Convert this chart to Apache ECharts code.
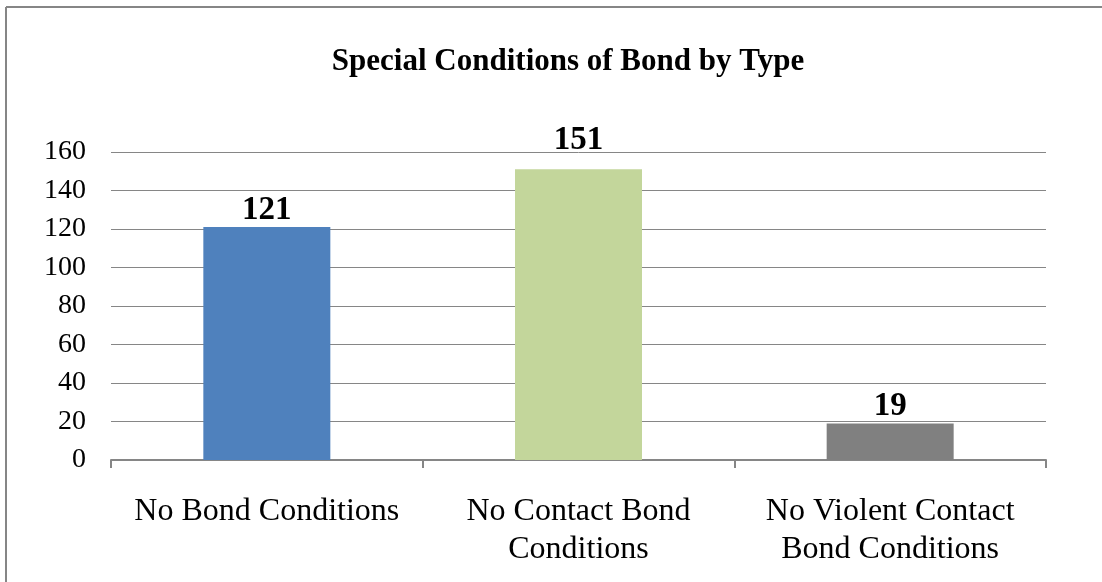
<!DOCTYPE html>
<html><head><meta charset="utf-8">
<script src="https://cdn.jsdelivr.net/npm/echarts@6/dist/echarts.min.js"></script>
<style>html,body{margin:0;padding:0;background:#fff}#c{width:1102px;height:582px}</style>
</head><body><div id="c"></div>
<script>
const categories = ['No Bond Conditions', 'No Contact Bond\nConditions', 'No Violent Contact\nBond Conditions'];
const values = [121, 151, 19];
const barColors = ['#4F81BD', '#C3D69B', '#808080'];
const labelGaps = [0, 12, 0];
const yTicks = {min: 0, max: 160, interval: 20};
const titleText = 'Special Conditions of Bond by Type';

const font = '"Liberation Serif", "Times New Roman", serif';
const chart = echarts.init(document.getElementById('c'));
chart.setOption({
  animation: false,
  backgroundColor: '#fff',
  title: {
    text: titleText, left: 563, textAlign: 'center', top: 41,
    textStyle: {fontFamily: font, fontWeight: 'bold', fontSize: 31, color: '#000'}
  },
  graphic: [
    {type: 'line', shape: {x1: 6, y1: 7, x2: 1102, y2: 7}, style: {stroke: '#868686', lineWidth: 2}},
    {type: 'line', shape: {x1: 6, y1: 7, x2: 6, y2: 582}, style: {stroke: '#868686', lineWidth: 2}}
  ],
  grid: {left: 111, right: 56, top: 152, bottom: 122, containLabel: false},
  xAxis: {
    type: 'category', data: categories,
    axisLine: {lineStyle: {color: '#868686', width: 2}},
    axisTick: {show: true, length: 8, lineStyle: {color: '#868686', width: 2}},
    axisLabel: {fontFamily: font, fontSize: 32, color: '#000', margin: 33, lineHeight: 38, interval: 0}
  },
  yAxis: {
    type: 'value', min: yTicks.min, max: yTicks.max, interval: yTicks.interval,
    axisLine: {show: false}, axisTick: {show: false},
    splitLine: {lineStyle: {color: '#868686', width: 1}},
    axisLabel: {fontFamily: font, fontSize: 28, color: '#000', margin: 25}
  },
  series: [{
    type: 'bar', barWidth: 127,
    data: values.map((v, i) => ({value: v, itemStyle: {color: barColors[i]}, label: {distance: labelGaps[i]}})),
    label: {show: true, position: 'top', distance: 0, fontFamily: font, fontWeight: 'bold', fontSize: 33, color: '#000'}
  }]
});
</script></body></html>
